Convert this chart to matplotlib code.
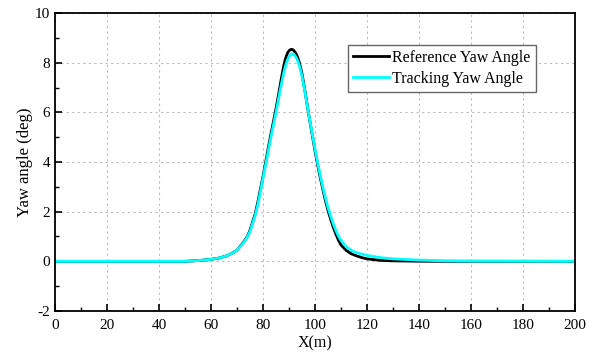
import matplotlib.pyplot as plt
from matplotlib.ticker import MultipleLocator

plt.rcParams['font.family'] = ['Liberation Serif', 'DejaVu Serif']
plt.rcParams['axes.unicode_minus'] = False

# reference yaw angle (deg) vs distance (m)
ref_x = [0, 50, 55, 60, 63, 66, 68, 70, 72, 74, 75, 76, 77, 78, 79, 80, 81, 82, 83, 84,
         85, 86, 87, 88, 88.5, 89, 89.5, 90, 90.5, 91, 91.5, 92, 92.5, 93, 93.5, 94, 95, 96,
         97, 98, 99, 100, 101, 102, 103, 104, 105, 106, 107, 108, 109, 110, 112, 114, 116,
         118, 120, 125, 130, 140, 150, 200]
ref_y = [0, 0, 0.03, 0.08, 0.13, 0.22, 0.32, 0.45, 0.7, 1.0, 1.25, 1.58, 1.92, 2.38, 2.9, 3.42, 3.98, 4.55, 5.1, 5.62,
         6.15, 6.72, 7.33, 7.88, 8.1, 8.27, 8.4, 8.48, 8.52, 8.54, 8.52, 8.47, 8.4, 8.3, 8.16, 8.0, 7.55, 6.95,
         6.3, 5.65, 5.05, 4.45, 3.9, 3.38, 2.9, 2.45, 2.05, 1.7, 1.38, 1.1, 0.86, 0.66, 0.44, 0.3, 0.22,
         0.15, 0.1, 0.04, 0.02, 0.005, 0, 0]

# tracking yaw angle
trk_x = [0, 50, 55, 60, 63, 66, 68, 70, 72, 74, 75, 76, 77, 78, 79, 80, 81, 82, 83, 84,
         85, 86, 87, 88, 88.5, 89, 89.5, 90, 90.5, 91, 91.5, 92, 92.5, 93, 93.5, 94, 95, 96,
         97, 98, 99, 100, 101, 102, 103, 104, 105, 106, 107, 108, 109, 110, 112, 114, 116,
         118, 120, 125, 130, 140, 150, 160, 200]
trk_y = [0, 0, 0.03, 0.08, 0.13, 0.22, 0.32, 0.45, 0.68, 0.98, 1.2, 1.52, 1.85, 2.28, 2.8, 3.35, 3.88, 4.43, 4.97, 5.48,
         6.0, 6.55, 7.1, 7.6, 7.81, 7.98, 8.13, 8.24, 8.31, 8.35, 8.35, 8.32, 8.25, 8.16, 8.03, 7.88, 7.45, 6.9,
         6.3, 5.68, 5.1, 4.53, 3.98, 3.47, 2.99, 2.56, 2.17, 1.83, 1.52, 1.25, 1.02, 0.84, 0.59, 0.44, 0.35,
         0.29, 0.24, 0.15, 0.1, 0.05, 0.02, 0.01, 0]

fig = plt.figure(figsize=(5.99, 3.56), dpi=100)
ax = fig.add_axes([55/599, 1-311/356, 520/599, 298/356])

ax.plot(ref_x, ref_y, color='black', lw=2, label='Reference Yaw Angle')
ax.plot(trk_x, trk_y, color='cyan', lw=2, label='Tracking Yaw Angle')

ax.set_xlim(0, 200)
ax.set_ylim(-2, 10)
ax.xaxis.set_major_locator(MultipleLocator(20))
ax.xaxis.set_minor_locator(MultipleLocator(10))
ax.yaxis.set_major_locator(MultipleLocator(2))
ax.yaxis.set_minor_locator(MultipleLocator(1))
ax.tick_params(which='both', direction='in', labelsize=11)
ax.tick_params(axis='x', which='major', pad=6)
ax.tick_params(which='major', length=5, width=1.2)
ax.tick_params(which='minor', length=3, width=1)
ax.grid(True, which='major', ls=(0, (2, 3)), color='#bbbbbb', lw=0.8)
for s in ax.spines.values():
    s.set_linewidth(1.3)

ax.set_xlabel('X(m)', fontsize=11.5, labelpad=2)
ax.set_ylabel('Yaw angle (deg)', fontsize=12, labelpad=1)

leg = ax.legend(loc='upper left', bbox_to_anchor=(0.563, 0.892), fontsize=11.5,
                fancybox=False, framealpha=1, edgecolor='#666666',
                handlelength=2.3, handletextpad=0.2, borderpad=0.3, labelspacing=0.3,
                borderaxespad=0)
leg.get_frame().set_linewidth(1)

fig.savefig('out.png', dpi=100)
